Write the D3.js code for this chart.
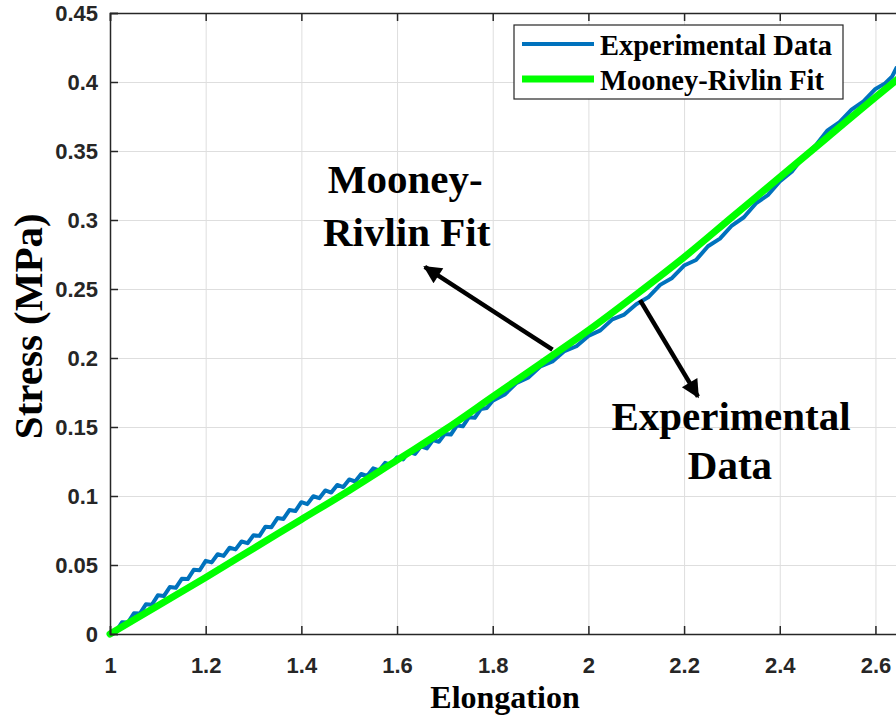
<!DOCTYPE html>
<html>
<head>
<meta charset="utf-8">
<script src="https://cdn.jsdelivr.net/npm/d3@7"></script>
<style>
  body { margin: 0; background: #fff; }
  svg { display: block; }
  .tick text { font-family: "Liberation Sans", Arial, sans-serif; font-weight: bold; font-size: 22px; fill: #262626; }
  .serif { font-family: "Liberation Serif", "Times New Roman", serif; font-weight: bold; fill: #000; }
</style>
</head>
<body>
<div id="chart"></div>
<script>
// x ticks / y ticks as shown on the figure
const xTicks = [1, 1.2, 1.4, 1.6, 1.8, 2, 2.2, 2.4, 2.6]
const yTicks = [0, 0.05, 0.1, 0.15, 0.2, 0.25, 0.3, 0.35, 0.4, 0.45]

// Mooney-Rivlin fit
const fitX = [1.0, 1.1, 1.2, 1.3, 1.4, 1.5, 1.6, 1.7, 1.8, 1.9, 2.0, 2.1, 2.2, 2.3, 2.4, 2.5, 2.6, 2.65]
const fitY = [0, 0.0205, 0.041, 0.062, 0.083, 0.104, 0.126, 0.148, 0.172, 0.196, 0.220, 0.246, 0.273, 0.302, 0.331, 0.360, 0.389, 0.403]

// experimental curve (blue, wiggly)
const expX = [
  1.0, 1.0125, 1.025, 1.0375, 1.05, 1.0625, 1.075, 1.0875, 1.1, 1.1125, 1.125, 1.1375, 1.15, 1.1625, 1.175, 1.1875,
  1.2, 1.2125, 1.225, 1.2375, 1.25, 1.2625, 1.275, 1.2875, 1.3, 1.3125, 1.325, 1.3375, 1.35, 1.3625, 1.375, 1.3875,
  1.4, 1.4125, 1.425, 1.4375, 1.45, 1.4625, 1.475, 1.4875, 1.5, 1.5125, 1.525, 1.5375, 1.55, 1.5625, 1.575, 1.5875,
  1.6, 1.6125, 1.625, 1.6375, 1.65, 1.6625, 1.675, 1.6875, 1.7, 1.7125, 1.725, 1.7375, 1.75, 1.7625, 1.775, 1.7875,
  1.8, 1.825, 1.85, 1.875, 1.9, 1.925, 1.95, 1.975, 2.0, 2.025, 2.05, 2.075, 2.1, 2.125, 2.15, 2.175,
  2.2, 2.225, 2.25, 2.275, 2.3, 2.325, 2.35, 2.375, 2.4, 2.425, 2.45, 2.475, 2.5, 2.525, 2.55, 2.575,
  2.6, 2.62, 2.635, 2.645
]
const expY = [
  0.000, 0.0018, 0.0085, 0.0083, 0.015, 0.0148, 0.0215, 0.0212, 0.028, 0.0275, 0.034, 0.0335, 0.040, 0.0398, 0.0465, 0.0462,
  0.053, 0.0519, 0.0578, 0.0566, 0.0625, 0.0613, 0.067, 0.0658, 0.0715, 0.0711, 0.0778, 0.0774, 0.084, 0.0834, 0.0898, 0.0891,
  0.0955, 0.0941, 0.0998, 0.0984, 0.104, 0.1025, 0.108, 0.1065, 0.112, 0.1105, 0.116, 0.1145, 0.120, 0.1185, 0.124, 0.1225,
  0.128, 0.1265, 0.132, 0.1305, 0.136, 0.1345, 0.1405, 0.1393, 0.145, 0.1445, 0.151, 0.1505, 0.157, 0.1567, 0.163, 0.1637,
  0.169, 0.1735, 0.182, 0.186, 0.194, 0.1975, 0.205, 0.2085, 0.216, 0.220, 0.228, 0.2315, 0.239, 0.244, 0.253, 0.258,
  0.267, 0.271, 0.281, 0.2865, 0.296, 0.302, 0.312, 0.318, 0.328, 0.335, 0.346, 0.354, 0.365, 0.371, 0.380, 0.386,
  0.395, 0.399, 0.404, 0.411
]

const legendItems = ["Experimental Data", "Mooney-Rivlin Fit"]
const colors = { exp: "#0072BD", fit: "#00FF00" }

const W = 896, H = 717
const margin = { left: 110, top: 13, bottom: 83 }

const svg = d3.select("#chart").append("svg")
    .attr("width", W)
    .attr("height", H)

const x = d3.scaleLinear().domain([1, 2.65]).range([margin.left, margin.left + 1.65 * 478.4])
const y = d3.scaleLinear().domain([0, 0.45]).range([H - margin.bottom, margin.top])

/* grid */
svg.append("g")
    .attr("transform", `translate(0,${y(0)})`)
    .call(d3.axisBottom(x).tickValues(xTicks).tickSize(-(y(0) - y(0.45))).tickFormat(""))
    .call(g => g.select(".domain").remove())
    .selectAll("line").attr("stroke", "#dedede").attr("stroke-width", 1)
svg.append("g")
    .attr("transform", `translate(${x(1)},0)`)
    .call(d3.axisLeft(y).tickValues(yTicks).tickSize(-(x(2.65) - x(1))).tickFormat(""))
    .call(g => g.select(".domain").remove())
    .selectAll("line").attr("stroke", "#dedede").attr("stroke-width", 1)

/* curves */
const expLine = d3.line().x(i => x(expX[i])).y(i => y(expY[i]))
const fitLine = d3.line().x(i => x(fitX[i])).y(i => y(fitY[i])).curve(d3.curveMonotoneX)

svg.append("path")
    .attr("d", expLine(d3.range(expX.length)))
    .attr("fill", "none")
    .attr("stroke", colors.exp)
    .attr("stroke-width", 4)
    .attr("stroke-linejoin", "round")

svg.append("path")
    .attr("d", fitLine(d3.range(fitX.length)))
    .attr("fill", "none")
    .attr("stroke", colors.fit)
    .attr("stroke-width", 7)
    .attr("stroke-linecap", "round")

/* axes, ticks pointing inward */
const axisColor = "#262626"
const bottomAxis = svg.append("g")
    .attr("transform", `translate(0,${y(0)})`)
    .call(d3.axisBottom(x).tickValues(xTicks).tickSize(-8).tickPadding(23).tickFormat(d3.format("~g")))
const leftAxis = svg.append("g")
    .attr("transform", `translate(${x(1)},0)`)
    .call(d3.axisLeft(y).tickValues(yTicks).tickSize(-8).tickPadding(12).tickFormat(d3.format("~g")))
const topAxis = svg.append("g")
    .attr("transform", `translate(0,${y(0.45)})`)
    .call(d3.axisTop(x).tickValues(xTicks).tickSize(-8).tickFormat(""))
for (const g of [bottomAxis, leftAxis, topAxis]) {
    g.select(".domain").attr("stroke", axisColor).attr("stroke-width", 1.5)
    g.selectAll(".tick line").attr("stroke", axisColor).attr("stroke-width", 1.5)
}
leftAxis.selectAll(".tick text").attr("dy", "0.36em")
// labels sit well below the axis line, as in the original
bottomAxis.selectAll(".tick text").attr("y", 23).attr("dy", "0.71em")

/* axis titles */
svg.append("text")
    .attr("class", "serif")
    .attr("x", 505)
    .attr("y", 708)
    .attr("text-anchor", "middle")
    .attr("font-size", 32)
    .text("Elongation")
svg.append("text")
    .attr("class", "serif")
    .attr("transform", `translate(42,${y(0.223)}) rotate(-90)`)
    .attr("text-anchor", "middle")
    .attr("font-size", 41)
    .text("Stress (MPa)")

/* legend */
const legend = svg.append("g").attr("transform", "translate(514,25)")
legend.append("rect")
    .attr("width", 329)
    .attr("height", 74)
    .attr("fill", "#fff")
    .attr("stroke", axisColor)
    .attr("stroke-width", 1.2)
legendItems.forEach((name, i) => {
    const row = legend.append("g").attr("transform", `translate(0,${19 + i * 35})`)
    row.append("line")
        .attr("x1", 8).attr("x2", 80)
        .attr("stroke", i === 0 ? colors.exp : colors.fit)
        .attr("stroke-width", i === 0 ? 4 : 7)
    row.append("text")
        .attr("class", "serif")
        .attr("x", 86)
        .attr("y", 11)
        .attr("font-size", 28.5)
        .text(name)
})

/* annotations */
const defs = svg.append("defs")
defs.append("marker")
    .attr("id", "head")
    .attr("viewBox", "0 0 10 10")
    .attr("refX", 9).attr("refY", 5)
    .attr("markerWidth", 4.6).attr("markerHeight", 4)
    .attr("markerUnits", "strokeWidth")
    .attr("orient", "auto")
  .append("path")
    .attr("d", "M0,0L10,5L0,10z")
    .attr("fill", "#000")

const arrows = [
    { from: [1.925, 0.206], to: [1.658, 0.266] },
    { from: [2.108, 0.242], to: [2.229, 0.172] }
]
arrows.forEach(a => {
    svg.append("line")
        .attr("x1", x(a.from[0])).attr("y1", y(a.from[1]))
        .attr("x2", x(a.to[0])).attr("y2", y(a.to[1]))
        .attr("stroke", "#000")
        .attr("stroke-width", 4.5)
        .attr("marker-end", "url(#head)")
})

const notes = [
    { text: "Mooney-", at: [1.617, 0.3195] },
    { text: "Rivlin Fit", at: [1.62, 0.2815] },
    { text: "Experimental", at: [2.298, 0.148] },
    { text: "Data", at: [2.296, 0.112] }
]
notes.forEach(n => {
    svg.append("text")
        .attr("class", "serif")
        .attr("x", x(n.at[0]))
        .attr("y", y(n.at[1]))
        .attr("text-anchor", "middle")
        .attr("font-size", 41)
        .text(n.text)
})
</script>
</body>
</html>
